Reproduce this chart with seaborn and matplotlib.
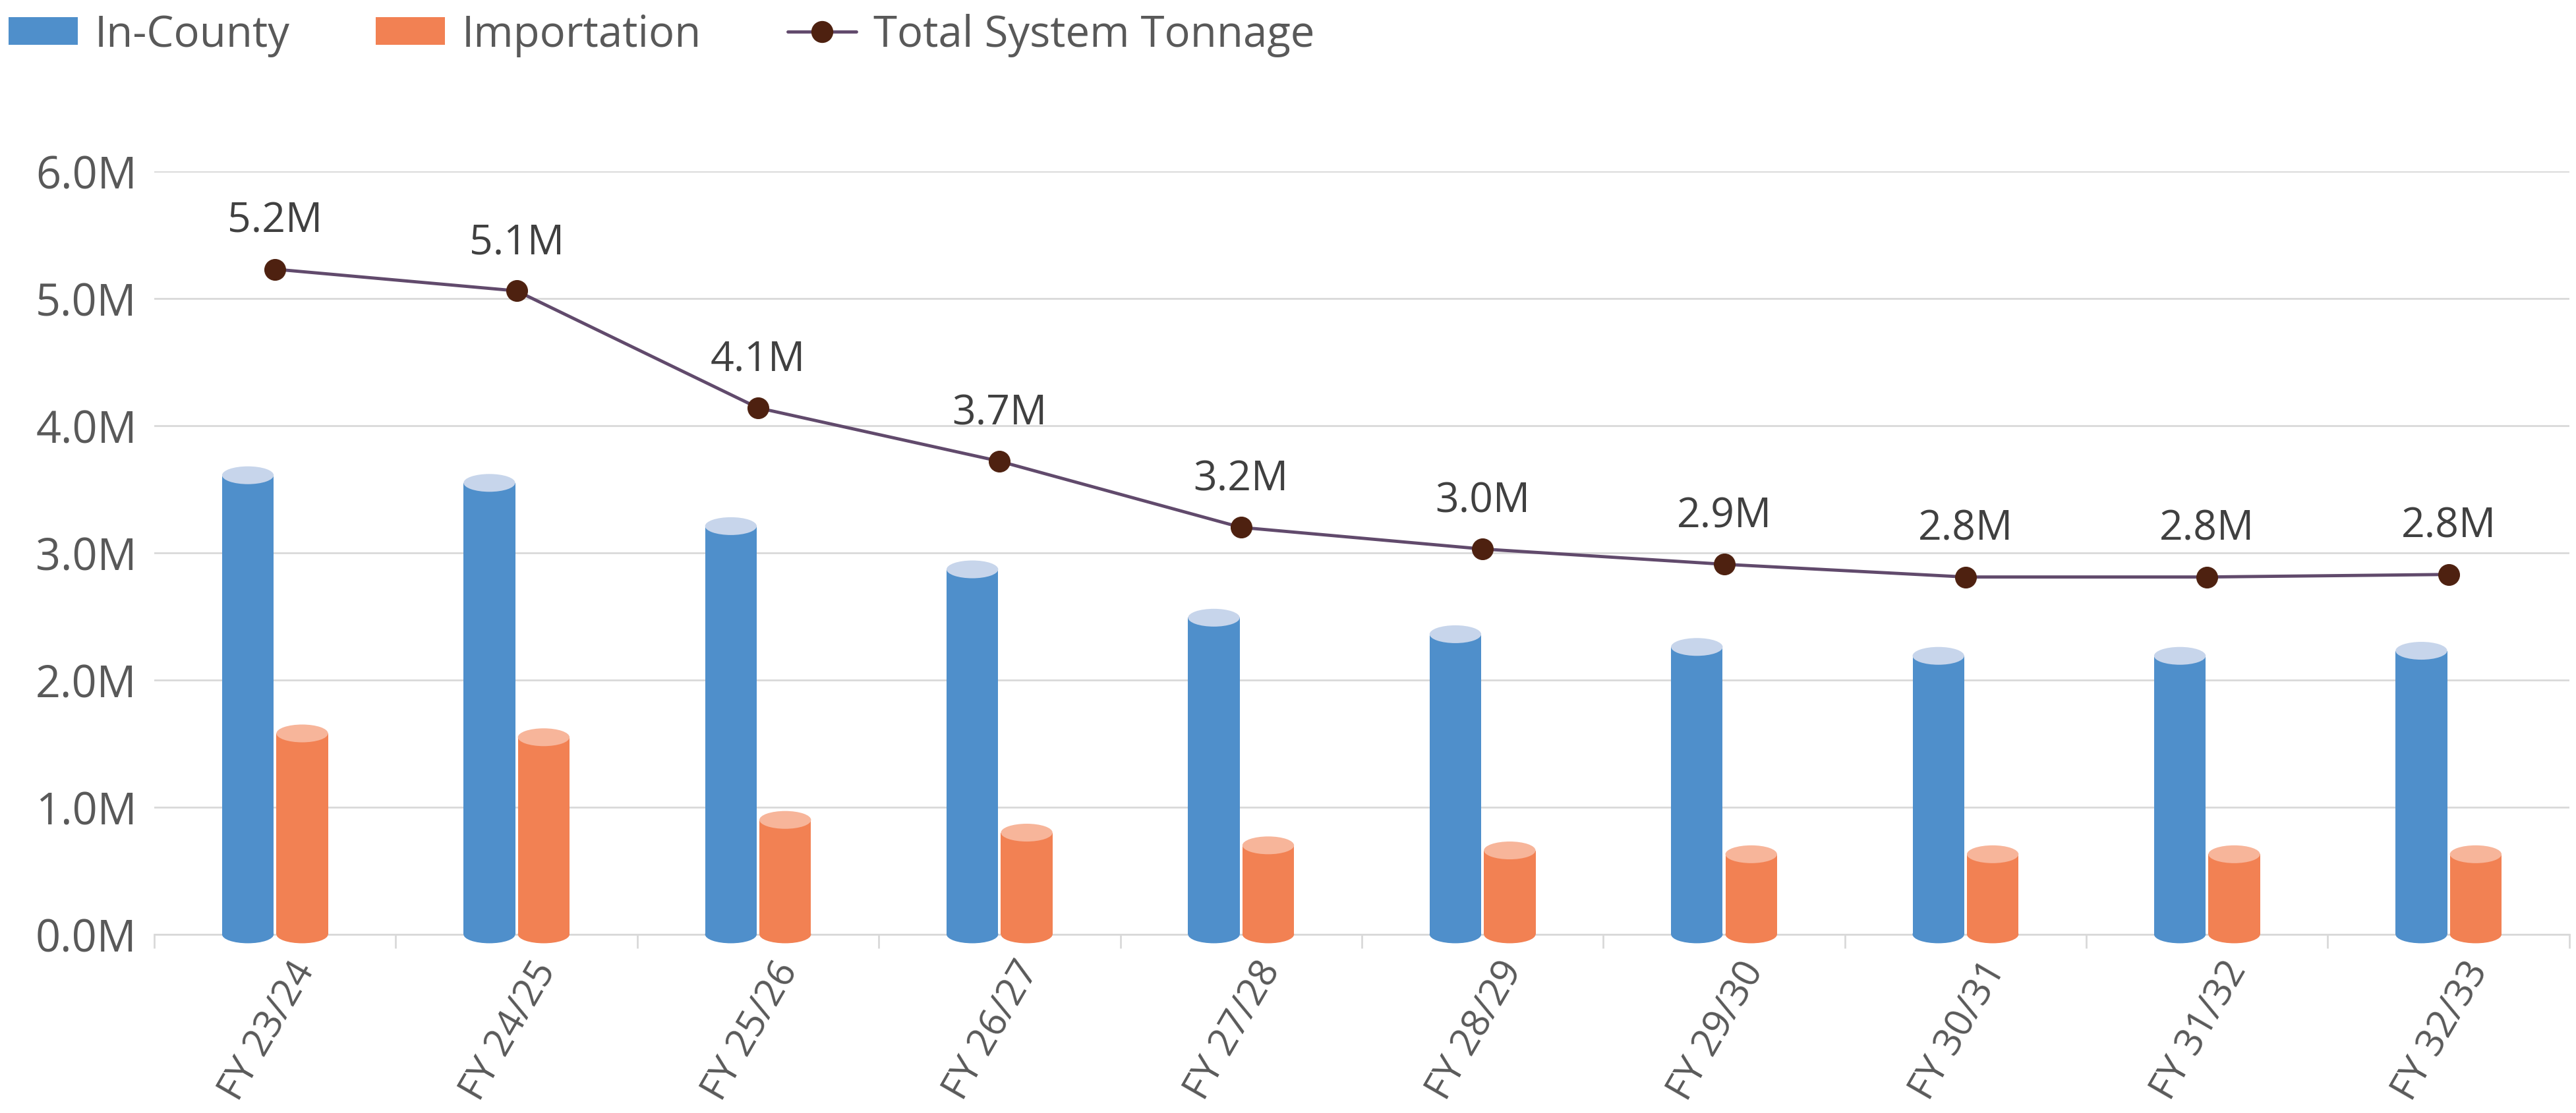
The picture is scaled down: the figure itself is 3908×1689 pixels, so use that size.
import numpy as np
import pandas as pd
import matplotlib
matplotlib.use('Agg')
import matplotlib.pyplot as plt
import matplotlib.transforms as mtransforms
import seaborn as sns
from matplotlib.patches import Ellipse, Patch
from matplotlib.lines import Line2D
from matplotlib.ticker import FuncFormatter, FixedLocator

# ── Data (tons) ──────────────────────────────────────────────────────────────
years = ['FY 23/24', 'FY 24/25', 'FY 25/26', 'FY 26/27', 'FY 27/28',
         'FY 28/29', 'FY 29/30', 'FY 30/31', 'FY 31/32', 'FY 32/33']
in_county = [3610000, 3550000, 3210000, 2870000, 2490000,
             2360000, 2260000, 2190000, 2190000, 2230000]
importation = [1580000, 1550000, 900000, 800000, 700000,
               660000, 630000, 630000, 630000, 630000]
total = [5230000, 5060000, 4140000, 3720000, 3200000,
         3030000, 2910000, 2810000, 2810000, 2830000]
series_names = ['In-County', 'Importation', 'Total System Tonnage']

BLUE, BLUE_TOP = '#4f8fcb', '#c7d5eb'
ORANGE, ORANGE_TOP = '#f28153', '#f7b59a'
LINE_COL, MARKER_COL = '#614a6c', '#4e2110'
GRID_COL = '#d9d9d9'
TEXT_COL = '#595959'

sns.set_theme(style='white')
plt.rcParams['font.family'] = ['Open Sans', 'DejaVu Sans']

df = pd.DataFrame({'year': years, series_names[0]: in_county, series_names[1]: importation})
df_long = df.melt(id_vars='year', var_name='series', value_name='tons')

fig = plt.figure(figsize=(39.08, 16.9), dpi=100)
ax = fig.add_axes([0.0599, 0.1604, 0.9375, 0.6852])

sns.barplot(data=df_long, x='year', y='tons', hue='series', palette=[BLUE, ORANGE],
            width=0.45, gap=0.05, saturation=1, linewidth=0, errorbar=None,
            legend=False, ax=ax, zorder=2)

# cylinder caps on each bar
cap_h = 0.14e6
for container, body, top in zip(ax.containers, [BLUE, ORANGE], [BLUE_TOP, ORANGE_TOP]):
    for p in container.patches:
        cx = p.get_x() + p.get_width() / 2
        w = p.get_width()
        h = p.get_height()
        ax.add_patch(Ellipse((cx, 0), w, cap_h, facecolor=body, edgecolor='none',
                             clip_on=False, zorder=2.6))
        ax.add_patch(Ellipse((cx, h), w, cap_h, facecolor=top, edgecolor='none',
                             zorder=3))

# total line
xpos = np.arange(len(years))
sns.lineplot(x=xpos, y=total, color=LINE_COL, linewidth=3.5, marker='o', markersize=23,
             markerfacecolor=MARKER_COL, markeredgecolor=MARKER_COL, ax=ax,
             legend=False, zorder=4)
for i, v in enumerate(total):
    ax.annotate(f'{v / 1e6:.1f}M', (i, v), xytext=(0, 41), textcoords='offset points',
                ha='center', va='baseline', fontsize=45, color='#404040')

# axes styling
ax.set_xlim(-0.5, len(years) - 0.5)
ax.set_ylim(0, 6e6)
ax.set_yticks(np.arange(0, 6.01e6, 1e6))
ax.yaxis.set_major_formatter(FuncFormatter(lambda v, _: f'{v / 1e6:.1f}M'))
ax.yaxis.grid(True, color=GRID_COL, linewidth=2)
ax.set_axisbelow(True)
for s in ['left', 'right', 'top']:
    ax.spines[s].set_visible(False)
ax.spines['bottom'].set_color(GRID_COL)
ax.spines['bottom'].set_linewidth(2)
ax.spines['bottom'].set_zorder(1)
ax.set_xlabel('')
ax.set_ylabel('')

ax.set_xticks(xpos)
ax.set_xticklabels(years, rotation=60, ha='right', rotation_mode='anchor')
ax.xaxis.set_minor_locator(FixedLocator(np.arange(-0.5, len(years), 1)))
ax.tick_params(axis='x', which='major', length=0, pad=22, labelsize=42, labelcolor=TEXT_COL)
ax.tick_params(axis='x', which='minor', length=15, width=2, color=GRID_COL, bottom=True)
ax.tick_params(axis='y', length=0, pad=19, labelsize=48, labelcolor=TEXT_COL)
shift = mtransforms.ScaledTranslation(0.22, 0, fig.dpi_scale_trans)
for lbl in ax.get_xticklabels():
    lbl.set_transform(lbl.get_transform() + shift)

# legend
handles = [Patch(facecolor=BLUE, edgecolor='none'),
           Patch(facecolor=ORANGE, edgecolor='none'),
           Line2D([0], [0], color=LINE_COL, lw=3.5, marker='o', markersize=23,
                  markerfacecolor=MARKER_COL, markeredgecolor=MARKER_COL)]
fig.legend(handles, series_names, loc='center left', bbox_to_anchor=(0.0, 0.968),
           ncol=3, frameon=False, fontsize=47, labelcolor=TEXT_COL,
           handlelength=1.6, handleheight=0.62, handletextpad=0.4,
           columnspacing=2.0, borderaxespad=0, borderpad=0.2)

fig.savefig('out.png', dpi=100)
